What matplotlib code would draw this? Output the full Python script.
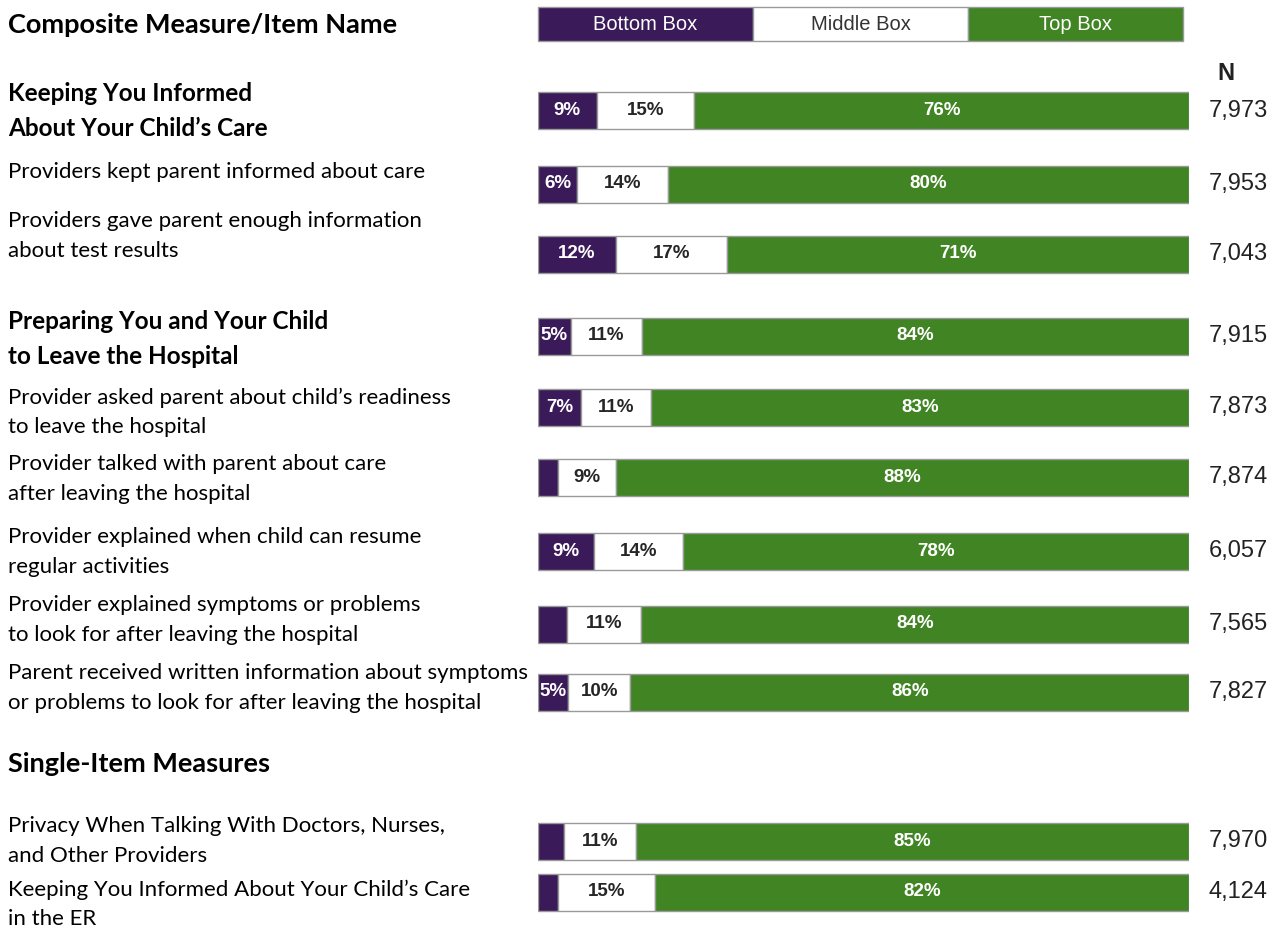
import matplotlib
matplotlib.use("Agg")
import matplotlib.pyplot as plt
from matplotlib.patches import Rectangle

W, H = 1279, 932
DPI = 100

# ---------------- data ----------------
items = [
    "Keeping You Informed\nAbout Your Child\u2019s Care",
    "Providers kept parent informed about care",
    "Providers gave parent enough information\nabout test results",
    "Preparing You and Your Child\nto Leave the Hospital",
    "Provider asked parent about child\u2019s readiness\nto leave the hospital",
    "Provider talked with parent about care\nafter leaving the hospital",
    "Provider explained when child can resume\nregular activities",
    "Provider explained symptoms or problems\nto look for after leaving the hospital",
    "Parent received written information about symptoms\nor problems to look for after leaving the hospital",
    "Privacy When Talking With Doctors, Nurses,\nand Other Providers",
    "Keeping You Informed About Your Child\u2019s Care\nin the ER",
]
is_composite = [True, False, False, True, False, False, False, False, False, False, False]
bottom_box = [9, 6, 12, 5, 6.6, 3, 8.6, 4.4, 4.6, 4, 3]
middle_box = [15, 14, 17, 11, 10.8, 9, 13.6, 11.4, 9.6, 11, 15]
top_box = [76, 80, 71, 84, 82.6, 88, 77.8, 84.2, 85.8, 85, 82]
n_values = ["7,973", "7,953", "7,043", "7,915", "7,873", "7,874", "6,057", "7,565", "7,827", "7,970", "4,124"]
legend_labels = ["Bottom Box", "Middle Box", "Top Box"]
section_titles = ["Composite Measure/Item Name", "Single-Item Measures"]

# ---------------- layout (pixels) ----------------
bar_y = [110.5, 184, 254, 336, 407, 477, 551, 624, 692, 841, 892]
label_y = [111, 172, 236, 339, 412, 479, 552, 620, 688, 841, 904]
section_y = [25, 764]
bar_h = 37
x0_px, w_px = 538, 651

PURPLE = "#3a1a58"
GREEN = "#418423"
EDGE = "#9a9a9a"

LABEL_FONT = ["Lato", "DejaVu Sans"]
NUM_FONT = ["Liberation Sans", "DejaVu Sans"]

fig = plt.figure(figsize=(W / DPI, H / DPI), dpi=DPI)
ax = fig.add_axes([x0_px / W, 0, w_px / W, 1])
ax.set_xlim(0, 100)
ax.set_ylim(H, 0)
ax.axis("off")

for i in range(len(items)):
    b, m, t = bottom_box[i], middle_box[i], top_box[i]
    y = bar_y[i]
    ax.barh(y, b, left=0, height=bar_h, color=PURPLE, edgecolor=EDGE, linewidth=1)
    ax.barh(y, m, left=b, height=bar_h, color="white", edgecolor=EDGE, linewidth=1)
    ax.barh(y, t, left=b + m, height=bar_h, color=GREEN, edgecolor=EDGE, linewidth=1)
    for val, left, col in ((b, 0, "white"), (m, b, "#262626"), (t, b + m, "white")):
        if round(val) >= 5:
            ax.text(left + val / 2, y, f"{round(val)}%", ha="center", va="center",
                    color=col, fontsize=13.5, fontweight="bold", family=NUM_FONT)

# fig-pixel helpers
def fx(px):
    return px / W

def fy(py):
    return 1 - py / H

# legend box at top
leg_x = [538, 753, 968]
leg_w = 215
leg_cols = [PURPLE, "white", GREEN]
leg_tc = ["white", "#333333", "white"]
for lx, lab, c, tc in zip(leg_x, legend_labels, leg_cols, leg_tc):
    fig.patches.append(Rectangle((fx(lx), fy(41)), leg_w / W, 34 / H, transform=fig.transFigure,
                                 facecolor=c, edgecolor=EDGE, linewidth=1))
    fig.text(fx(lx + leg_w / 2), fy(25), lab, ha="center", va="center", color=tc,
             fontsize=14.5, family=NUM_FONT)

# N column
fig.text(fx(1226), fy(74), "N", ha="center", va="center", fontsize=17, fontweight="bold",
         family=NUM_FONT, color="#222222")
for i, n in enumerate(n_values):
    fig.text(fx(1238), fy(bar_y[i]), n, ha="center", va="center", fontsize=17,
             family=NUM_FONT, color="#222222")

# left labels
for i, lab in enumerate(items):
    comp = is_composite[i]
    fig.text(fx(8), fy(label_y[i]), lab, ha="left", va="center",
             fontsize=17.5 if comp else 16,
             fontweight="bold" if comp else "normal",
             family=LABEL_FONT, color="black", linespacing=1.6 if comp else 1.58)

for t, y in zip(section_titles, section_y):
    fig.text(fx(8), fy(y), t, ha="left", va="center", fontsize=19.5, fontweight="bold",
             family=LABEL_FONT, color="black")

fig.savefig("out.png", dpi=DPI)
